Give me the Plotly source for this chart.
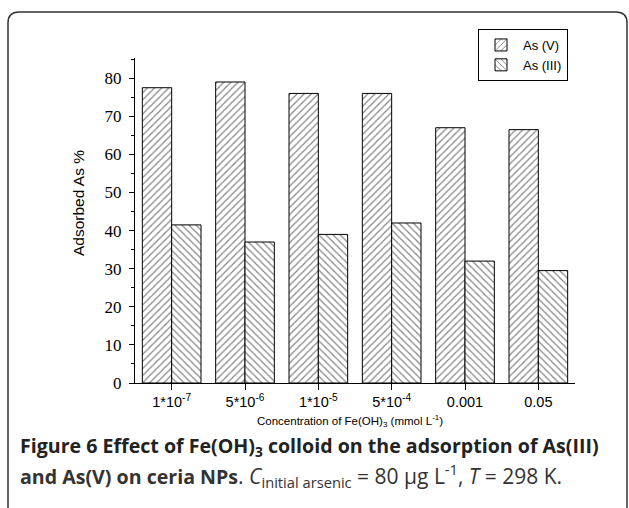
import plotly.graph_objects as go

categories = ["1*10<sup>-7</sup>", "5*10<sup>-6</sup>", "1*10<sup>-5</sup>", "5*10<sup>-4</sup>", "0.001", "0.05"]
as_v = [77.5, 79.0, 76.0, 76.0, 67.0, 66.5]
as_iii = [41.5, 37.0, 39.0, 42.0, 32.0, 29.5]
y_ticks = [0, 10, 20, 30, 40, 50, 60, 70, 80]

W, H = 629, 508
L, R, T, B = 135, 54, 58, 125
PW, PH = W - L - R, H - T - B


def px(x):
    return (x - L) / PW


def py(y):
    return (H - B - y) / PH


fig = go.Figure()
fig.add_trace(go.Bar(
    x=categories, y=as_v, name="As (V)",
    marker=dict(color="white", line=dict(color="black", width=1),
                pattern=dict(shape="/", size=5, solidity=0.22, fgcolor="black", bgcolor="white")),
))
fig.add_trace(go.Bar(
    x=categories, y=as_iii, name="As (III)",
    marker=dict(color="white", line=dict(color="black", width=1),
                pattern=dict(shape="\\", size=5, solidity=0.22, fgcolor="black", bgcolor="white")),
))

# rounded frame
x0, x1, y0, y1, r = 8, 627, 12, 540, 11
path = (f"M {px(x0)},{py(y0 + r)} Q {px(x0)},{py(y0)} {px(x0 + r)},{py(y0)} "
        f"L {px(x1 - r)},{py(y0)} Q {px(x1)},{py(y0)} {px(x1)},{py(y0 + r)} "
        f"L {px(x1)},{py(y1)} L {px(x0)},{py(y1)} Z")
fig.add_shape(type="path", path=path, xref="paper", yref="paper",
              line=dict(color="#333333", width=1.5), fillcolor="rgba(0,0,0,0)", layer="below")

SANS = "Liberation Sans"
SERIF = "Liberation Serif, Times New Roman, serif"
anns = [
    dict(x=px(350), y=py(421), text="Concentration of Fe(OH)<sub>3</sub> (mmol L<sup>-1</sup>)",
         font=dict(family=SANS, size=11.5, color="black"), xanchor="center", yanchor="middle"),
    dict(x=px(78), y=py(203), text="Adsorbed As %", textangle=-90,
         font=dict(family=SANS, size=15.5, color="black"), xanchor="center", yanchor="middle"),
    dict(x=px(18), y=py(446), text="<b>Figure 6 Effect of Fe(OH)<sub>3</sub> colloid on the adsorption of As(III)</b>",
         font=dict(family="Open Sans", size=19.6, color="#222222"), xanchor="left", yanchor="middle"),
    dict(x=px(18), y=py(475),
         text="<b>and As(V) on ceria NPs</b><span style='font-size:21px'>. <i>C</i><sub>initial arsenic</sub> = 80 µg L<sup>-1</sup>, <i>T</i> = 298 K.</span>",
         font=dict(family="Open Sans", size=19.6, color="#333333"), xanchor="left", yanchor="middle"),
]
for a in anns:
    fig.add_annotation(xref="paper", yref="paper", showarrow=False, **a)

fig.update_layout(
    width=W, height=H,
    margin=dict(l=L, r=R, t=T, b=B),
    paper_bgcolor="white", plot_bgcolor="white",
    barmode="group", bargap=0.2, bargroupgap=0,
    showlegend=True,
    legend=dict(x=px(478), y=py(29), xanchor="left", yanchor="top",
                bordercolor="black", borderwidth=1, bgcolor="white",
                font=dict(family=SANS, size=13, color="black"),
                tracegroupgap=0, itemwidth=34),
    xaxis=dict(range=[-0.5, 5.5], showline=True, linecolor="black", linewidth=1,
               ticks="outside", ticklen=6, tickcolor="black", showgrid=False, zeroline=False,
               tickfont=dict(family=SANS, size=14.5, color="black")),
    yaxis=dict(range=[0, 85.3], showline=True, linecolor="black", linewidth=1,
               tickvals=y_ticks, ticks="outside", ticklen=5, tickcolor="black",
               minor=dict(dtick=5, ticks="outside", ticklen=3, tickcolor="black"),
               showgrid=False, zeroline=False, ticklabelstandoff=4,
               tickfont=dict(family=SERIF, size=17, color="black")),
)

fig.write_html("out.html", config={"displayModeBar": False},
               post_script="document.body.style.margin='0';document.body.style.padding='0';")
